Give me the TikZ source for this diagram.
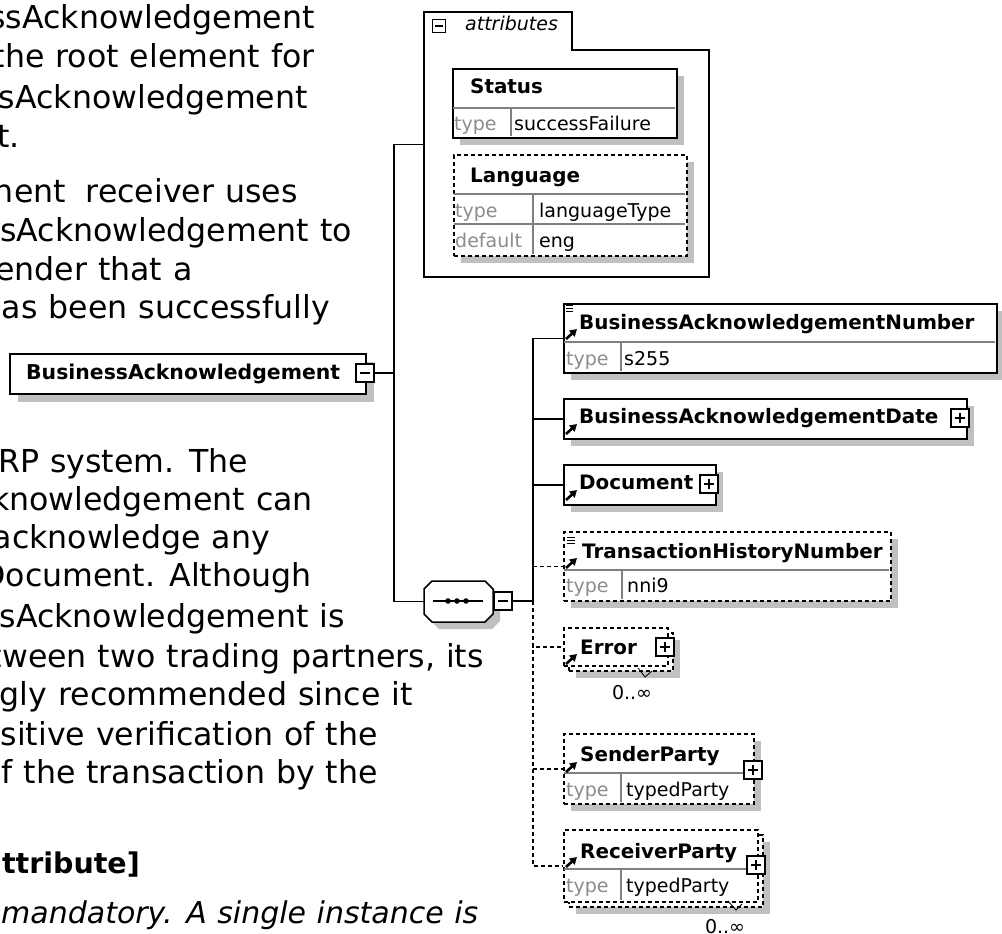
\documentclass[tikz,border=0pt]{standalone}
\usepackage{fontspec}
\setmainfont{DejaVu Sans}
\newfontfamily\bodyfam[WordSpace=1.1]{DejaVu Sans}
\usetikzlibrary{shadows,arrows.meta}
\definecolor{shgray}{RGB}{192,192,192}
\definecolor{labgray}{RGB}{140,140,140}
\definecolor{sepgray}{RGB}{128,128,128}
\newcommand\bodyfnt{\bodyfam\fontsize{31.6}{36}\selectfont}
\newcommand\bodybf{\bodyfam\fontsize{28.5}{34}\selectfont\bfseries}
\newcommand\bodyit{\bodyfam\fontsize{30}{34}\selectfont\itshape}
\newcommand\dgfnt{\fontsize{19}{19}\selectfont}
\newcommand\dgbold{\fontsize{19.9}{20}\selectfont\bfseries}
\newcommand\dgit{\fontsize{19}{19}\selectfont\itshape}
\begin{document}
\begin{tikzpicture}[x=1pt,y=-1pt,
  xline/.style={line width=1.5pt, black},
  dsh/.style={dash pattern=on 4pt off 3pt},
  xbox/.style={draw, line width=1.6pt, fill=white, inner sep=0pt, anchor=north west},
  xshd/.style={general shadow={fill=shgray, draw=none, shadow xshift=7pt, shadow yshift=-7pt}},
  xtog/.style={draw, line width=1.3pt, fill=white, minimum size=18pt, inner sep=0pt},
  xminus/.style={xtog, path picture={\draw[line width=1.3pt] ([xshift=4pt]path picture bounding box.west) -- ([xshift=-4pt]path picture bounding box.east);}},
  xplus/.style={xtog, path picture={\draw[line width=1.3pt] ([xshift=4pt]path picture bounding box.west) -- ([xshift=-4pt]path picture bounding box.east); \draw[line width=1.3pt] ([yshift=-4pt]path picture bounding box.north) -- ([yshift=4pt]path picture bounding box.south);}},
  xname/.style={font=\dgbold, anchor=base west, inner sep=0pt},
  xval/.style={font=\dgfnt, anchor=base west, inner sep=0pt},
  xlbl/.style={xval, text=labgray},
  xsep/.style={draw=sepgray, line width=1.2pt},
  xbody/.style={font=\bodyfnt, anchor=base east, inner sep=0pt},
  xref/.style={line width=2.6pt, -{Triangle[length=7pt,width=8pt]}},
  xdoc/.style={line width=0.9pt},
]
\useasboundingbox (0,0) rectangle (1002,934);
\fill[white] (0,0) rectangle (1002,934);

% ---------- body text ----------
\node[xbody] (p1) at (315,29) {ssAcknowledgement};
\node[xbody] (p2) at (315,68) {the root element for};
\node[xbody] (p3) at (308,108) {sAcknowledgement};
\node[xbody] (p4) at (20,147) {t.};
\node[xbody] (p5) at (298,202) {nent\hspace*{20pt}receiver uses};
\node[xbody] (p6) at (352,241) {sAcknowledgement to};
\node[xbody] (p7) at (193,280) {ender that a};
\node[xbody] (p8) at (330,318) {has been successfully};
\node[xbody] (p9) at (248,472) {RP system. The};
\node[xbody] (p10) at (313,510) {knowledgement can};
\node[xbody] (p11) at (270,548) {acknowledge any};
\node[xbody] (p12) at (312,586) {Document. Although};
\node[xbody] (p13) at (345,627) {sAcknowledgement is};
\node[xbody] (p14) at (484,667) {tween two trading partners, its};
\node[xbody] (p15) at (413,705) {gly recommended since it};
\node[xbody] (p16) at (378,745) {sitive verification of the};
\node[xbody] (p17) at (378,783) {f the transaction by the};
\node[xbody, font=\bodybf] (p18) at (140,873) {ttribute]};
\node[font=\bodyit, anchor=base west, inner sep=0pt] (p19) at (1,923) {mandatory. A single instance is};

% ---------- attributes group ----------
\node[minimum width=285pt, minimum height=265pt, inner sep=0pt, anchor=north west] (attr) at (424,12) {};
\draw[line width=1.6pt] (424,277) -- (424,12) -- (572,12) -- (572,50) -- (709,50) -- (709,277) -- cycle;
\node[xtog, minimum size=13pt, path picture={\draw[line width=1.2pt] ([xshift=2.5pt]path picture bounding box.west) -- ([xshift=-2.5pt]path picture bounding box.east);}] (atog) at (439,26) {};
\node[font=\dgit, anchor=base west, inner sep=0pt] (atxt) at (465,31) {attributes};

\node[xbox, xshd, minimum width=224pt, minimum height=69pt] (status) at (452,68) {};
\draw[xsep] (453,108) -- (675,108);
\draw[xsep] (511,108) -- (511,136);
\node[xname] (stname) at (470,94) {Status};
\node[xlbl] (stty) at (454,131) {type};
\node[xval] (stval) at (514,131) {successFailure};

\node[xbox, xshd, dsh, minimum width=233pt, minimum height=101pt] (lang) at (453,154) {};
\draw[xsep] (454,194) -- (685,194);
\draw[xsep] (454,224) -- (685,224);
\draw[xsep] (533,194) -- (533,254);
\node[xname] (lgname) at (470,182) {Language};
\node[xlbl] (lgty) at (455,217) {type};
\node[xval] (lgval) at (539,217) {languageType};
\node[xlbl] (lgdf) at (455,247) {default};
\node[xval] (lgdv) at (539,247) {eng};

% ---------- root element ----------
\node[xbox, general shadow={fill=shgray, draw=none, shadow xshift=8pt, shadow yshift=-8pt}, minimum width=356pt, minimum height=40pt] (ba) at (9,353) {};
\node[xname, font=\fontsize{20.4}{20}\selectfont\bfseries] (batxt) at (26,379) {BusinessAcknowledgement};
\node[xminus] (batog) at (365,373) {};

% ---------- sequence compositor ----------
\node[minimum width=69pt, minimum height=41pt, inner sep=0pt, anchor=north west] (seq) at (424,581) {};
\fill[shgray] (439,588) -- (492,588) -- (500,596) -- (500,621) -- (492,629) -- (439,629) -- (431,621) -- (431,596) -- cycle;
\draw[xline, fill=white] (432,581) -- (485,581) -- (493,589) -- (493,614) -- (485,622) -- (432,622) -- (424,614) -- (424,589) -- cycle;
\draw[line width=1.5pt] (433,601) -- (483,601);
\fill (448,601) circle (2.8) (457,601) circle (2.8) (466,601) circle (2.8);
\node[xminus] (seqtog) at (503,601) {};

% ---------- child elements ----------
\node[xbox, xshd, minimum width=433pt, minimum height=69pt] (ban) at (563,303) {};
\draw[xsep] (564,342) -- (995,342);
\draw[xsep] (621,342) -- (621,371);
\node[xname] (banname) at (579,329) {BusinessAcknowledgementNumber};
\node[xlbl] (banty) at (566,365) {type};
\node[xval] (banval) at (624,365) {s255};
\draw[xdoc] (566,305.5) -- (573,305.5) (566,308.5) -- (573,308.5) (566,311.5) -- (573,311.5);
\draw[xref] (566,339) -- (577,329);

\node[xbox, xshd, minimum width=403pt, minimum height=40pt] (bad) at (563,398) {};
\node[xname] (badname) at (579,423) {BusinessAcknowledgementDate};
\node[xplus] (badtog) at (960,418) {};
\draw[xref] (566,434) -- (577,424);

\node[xbox, xshd, minimum width=152pt, minimum height=40pt] (doc) at (563,464) {};
\node[xname] (docname) at (579,489) {Document};
\node[xplus] (doctog) at (709,484) {};
\draw[xref] (566,500) -- (577,490);

\node[xbox, xshd, dsh, minimum width=327pt, minimum height=69pt] (thn) at (563,531) {};
\draw[xsep] (564,570) -- (889,570);
\draw[xsep] (622,570) -- (622,599);
\node[xname] (thnname) at (582,558) {TransactionHistoryNumber};
\node[xlbl] (thnty) at (566,592) {type};
\node[xval] (thnval) at (627,592) {nni9};
\draw[xdoc] (567,537) -- (575,537) (567,540) -- (575,540) (567,543) -- (575,543);
\draw[xref] (566,568) -- (577,558);

\node[xbox, xshd, dsh, minimum width=104pt, minimum height=38pt] (errb) at (568,632) {};
\node[xbox, dsh, minimum width=104pt, minimum height=38pt] (err) at (563,627) {};
\node[xname] (errname) at (580,654) {Error};
\node[xplus] (errtog) at (665,647) {};
\draw[xref] (566,664) -- (577,654);
\draw[line width=0.8pt] (638,668) -- (645,677) -- (652,671);
\node[xval, anchor=base] (errocc) at (632,699) {0..∞};

\node[xbox, xshd, dsh, minimum width=190pt, minimum height=70pt] (snd) at (563,733) {};
\draw[xsep] (564,773) -- (745,773);
\draw[xsep] (621,773) -- (621,802);
\node[xname] (sndname) at (580,761) {SenderParty};
\node[xlbl] (sndty) at (566,796) {type};
\node[xval] (sndval) at (626,796) {typedParty};
\node[xplus] (sndtog) at (753,770) {};
\draw[xref] (566,772) -- (577,762);

\node[xbox, xshd, dsh, minimum width=194pt, minimum height=72pt] (rcvb) at (568,834) {};
\node[xbox, dsh, minimum width=194pt, minimum height=72pt] (rcv) at (563,829) {};
\draw[xsep] (564,869) -- (748,869);
\draw[xsep] (621,869) -- (621,900);
\node[xname] (rcvname) at (580,858) {ReceiverParty};
\node[xlbl] (rcvty) at (566,892) {type};
\node[xval] (rcvval) at (626,892) {typedParty};
\node[xplus] (rcvtog) at (756,865) {};
\draw[xref] (566,867) -- (577,857);
\draw[line width=0.8pt] (728,901) -- (736,910) -- (742,904);
\node[xval, anchor=base] (rcvocc) at (725,933) {0..∞};

% ---------- connectors ----------
\coordinate (b1) at (394,373);
\coordinate (b2) at (533,601);
\draw[xline] (batog.east) -- (b1);
\draw[xline] (b1) |- (attr.west);
\draw[xline] (b1) |- (seq.west);
\draw[xline] (seqtog.east) -- (b2);
\draw[xline] (b2) |- (ban.west);
\draw[xline] (b2) |- (bad.west);
\draw[xline] (b2) |- (doc.west);
\draw[xline, dsh] (b2) |- (thn.west);
\draw[xline, dsh] (b2) |- (err.west);
\draw[xline, dsh] (b2) |- (snd.west);
\draw[xline, dsh] (b2) |- (rcv.west);
\end{tikzpicture}
\end{document}
